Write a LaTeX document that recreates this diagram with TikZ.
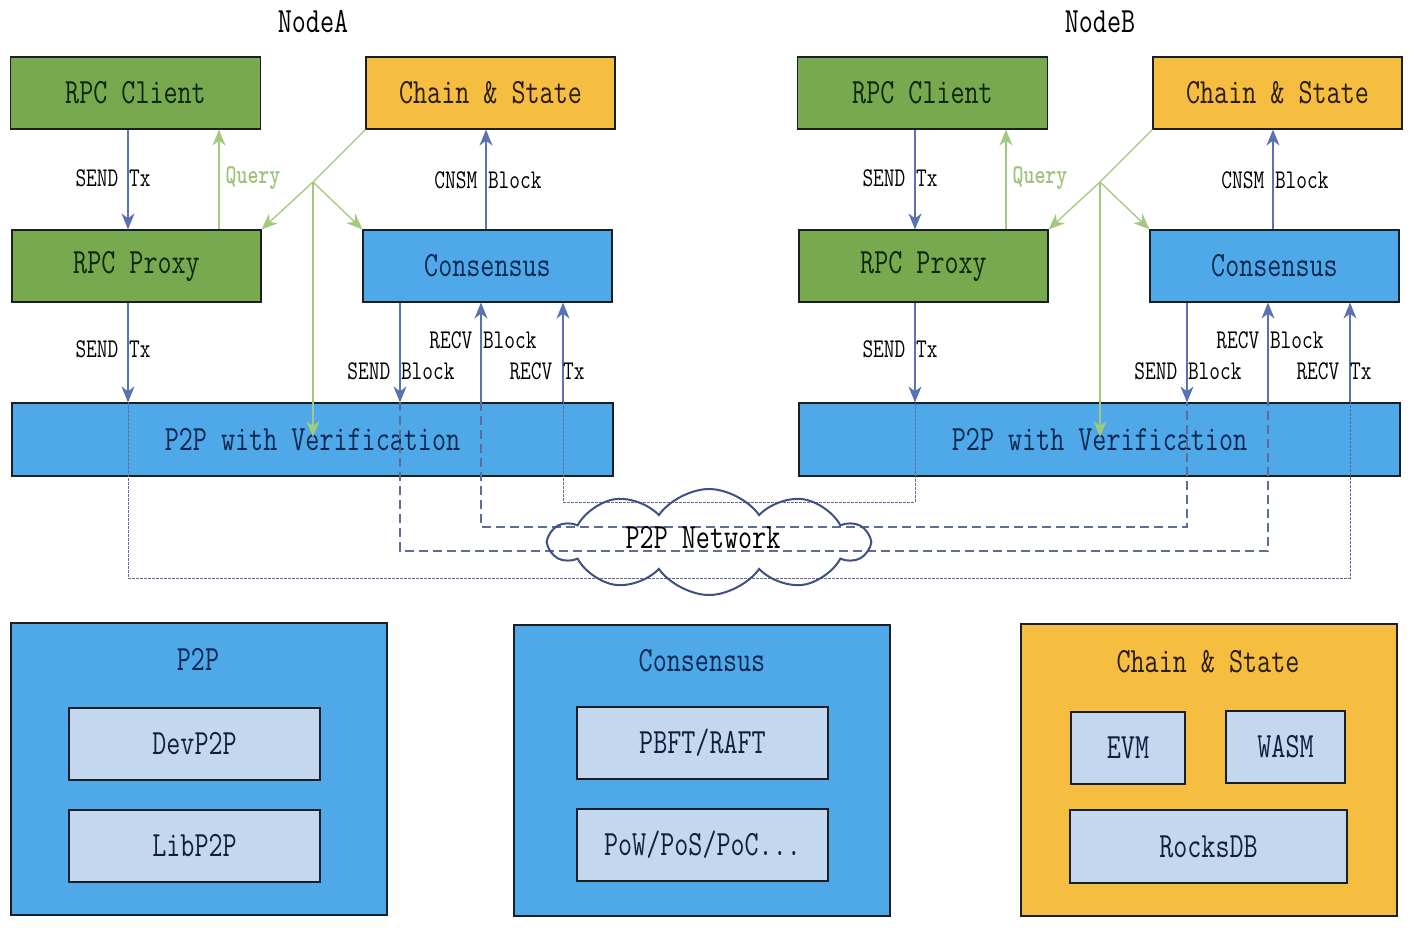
\documentclass[tikz,border=0pt]{standalone}
\usepackage{graphicx}
\usetikzlibrary{arrows.meta,shapes.symbols}
\definecolor{cgreen}{HTML}{78A94F}
\definecolor{tgreen}{HTML}{0E260C}
\definecolor{cgold}{HTML}{F5BE41}
\definecolor{tgold}{HTML}{2A1C05}
\definecolor{cblue}{HTML}{4FA8E8}
\definecolor{tblue}{HTML}{0C2850}
\definecolor{clight}{HTML}{C3D7EE}
\definecolor{tlight}{HTML}{0F1F3D}
\definecolor{boxline}{HTML}{1A1F26}
\definecolor{carrow}{HTML}{5B72B2}
\definecolor{cgline}{HTML}{A3C97F}
\definecolor{cquery}{HTML}{9CC378}
\definecolor{cdash}{HTML}{5E6C98}
\definecolor{ccloud}{HTML}{3F5180}
\newcommand\bigf{\ttfamily\fontsize{27.3}{30}\selectfont}
\newcommand\labf{\ttfamily\fontsize{20.8}{24}\selectfont}
\newcommand\vs[1]{\scalebox{1}[1.3]{#1}}
\begin{document}
\begin{tikzpicture}[x=1pt,y=-1pt,
  box/.style={draw=boxline, line width=1.2pt, font=\bigf, inner sep=0pt, anchor=center},
  gbox/.style={box, fill=cgreen, text=tgreen, minimum width=250pt, minimum height=72pt},
  obox/.style={box, fill=cgold, text=tgold, minimum width=249pt, minimum height=72pt},
  bbox/.style={box, fill=cblue, text=tblue, minimum width=249pt, minimum height=72pt},
  lbox/.style={box, fill=clight, text=tlight},
  title/.style={font=\bigf, inner sep=0pt, anchor=center},
  lab/.style={font=\labf, inner sep=0pt, anchor=center, text=black},
  tipb/.style={-{Stealth[length=16pt,width=13pt,inset=5pt]}},
  barrow/.style={draw=carrow, line width=1.2pt, tipb},
  gline/.style={draw=cgline, line width=1.3pt},
  garrow/.style={gline, tipb},
  dotl/.style={draw=cdash, line width=1pt, dash pattern=on 2.5pt off 1.5pt},
  dashl/.style={draw=cdash, line width=1.3pt, dash pattern=on 9pt off 5pt}
]
\useasboundingbox (0,0) rectangle (1414,936);
\fill[white] (0,0) rectangle (1414,936);

\foreach \n/\dx in {A/0,B/787}{
\begin{scope}[xshift=\dx pt]
  \node[title] (title\n) at (313,22) {\vs{Node\n}};
  \node[gbox] (cli\n) at (135.5,93) {\vs{RPC Client}};
  \node[obox] (chn\n) at (490.5,93) {\vs{Chain \& State}};
  \node[gbox, minimum width=249pt] (prx\n) at (136.5,266) {\vs{RPC Proxy}};
  \node[bbox] (con\n) at (487.5,266) {\vs{Consensus}};
  \node[bbox, minimum width=601pt, minimum height=73pt] (p2p\n) at (312.5,439.5) {\vs{P2P with Verification}};
  \coordinate (st\n) at (128,0);
  \coordinate (qu\n) at (219,0);
  \coordinate (cn\n) at (486,0);
  \coordinate (sb\n) at (400,0);
  \coordinate (rb\n) at (481,0);
  \coordinate (rt\n) at (563,0);
  \coordinate (j\n) at (313,182);
  \coordinate (ve\n) at (313,437);
  % blue arrows
  \draw[barrow] (cli\n.south -| st\n) -- (prx\n.north -| st\n);
  \draw[barrow] (prx\n.south -| st\n) -- (p2p\n.north -| st\n);
  \draw[barrow] (con\n.north -| cn\n) -- (chn\n.south -| cn\n);
  \draw[barrow] (con\n.south -| sb\n) -- (p2p\n.north -| sb\n);
  \draw[barrow] (p2p\n.north -| rb\n) -- (con\n.south -| rb\n);
  \draw[barrow] (p2p\n.north -| rt\n) -- (con\n.south -| rt\n);
  % green
  \draw[garrow] (prx\n.north -| qu\n) -- (cli\n.south -| qu\n);
  \draw[gline] (chn\n.south west) -- (j\n);
  \draw[garrow] (j\n) -- (prx\n.north east);
  \draw[garrow] (j\n) -- (con\n.north west);
  \draw[garrow] (j\n) -- (ve\n);
  % labels
  \node[lab] (l1\n) at (113,178) {\vs{SEND Tx}};
  \node[lab, text=cquery, font=\labf\bfseries] (l2\n) at (253,178) {\vs{Query}};
  \node[lab] (l3\n) at (488,180) {\vs{CNSM Block}};
  \node[lab] (l4\n) at (113,349) {\vs{SEND Tx}};
  \node[lab] (l5\n) at (401,371) {\vs{SEND Block}};
  \node[lab] (l6\n) at (483,340) {\vs{RECV Block}};
  \node[lab] (l7\n) at (547,371) {\vs{RECV Tx}};
\end{scope}
}

\coordinate (L1) at (0,502);
\coordinate (L2) at (0,527);
\coordinate (L3) at (0,551);
\coordinate (L4) at (0,578);
\draw[dotl] (p2pA.north -| stA) -- (stA |- L4) -- (rtB |- L4) -- (p2pB.north -| rtB);
\draw[dashl] (p2pA.north -| sbA) -- (sbA |- L3) -- (rbB |- L3) -- (p2pB.north -| rbB);
\draw[dashl] (p2pA.north -| rbA) -- (rbA |- L2) -- (sbB |- L2) -- (p2pB.north -| sbB);
\draw[dotl] (p2pA.north -| rtA) -- (rtA |- L1) -- (stB |- L1) -- (p2pB.north -| stB);

\node[cloud, draw=ccloud, line width=2pt, cloud puffs=10, cloud puff arc=110, aspect=3,
      minimum width=318pt, minimum height=106pt, inner sep=0pt] (cloud) at (709,542) {};
\node[title, text=black] (net) at (703,538) {\vs{P2P Network}};

% bottom modules
\node[box, fill=cblue, minimum width=376pt, minimum height=292pt] (mp2p) at (199,769) {};
\node[title, text=tblue] (mp2pt) at (198,659) {\vs{P2P}};
\node[lbox, minimum width=251pt, minimum height=72pt] (dev) at (194.5,744) {\vs{DevP2P}};
\node[lbox, minimum width=251pt, minimum height=72pt] (lib) at (194.5,846) {\vs{LibP2P}};

\node[box, fill=cblue, minimum width=376pt, minimum height=291pt] (mcon) at (702,770.5) {};
\node[title, text=tblue] (mcont) at (702,661) {\vs{Consensus}};
\node[lbox, minimum width=251pt, minimum height=72pt] (pbft) at (702.5,743) {\vs{PBFT/RAFT}};
\node[lbox, minimum width=251pt, minimum height=72pt] (pow) at (702.5,845) {\vs{PoW/PoS/PoC...}};

\node[box, fill=cgold, minimum width=376pt, minimum height=292pt] (mchn) at (1209,770) {};
\node[title, text=tgold] (mchnt) at (1208,662) {\vs{Chain \& State}};
\node[lbox, minimum width=114pt, minimum height=72pt] (evm) at (1128,748) {\vs{EVM}};
\node[lbox, minimum width=119pt, minimum height=72pt] (wasm) at (1285.5,747) {\vs{WASM}};
\node[lbox, minimum width=277pt, minimum height=73pt] (rdb) at (1208.5,846.5) {\vs{RocksDB}};
\end{tikzpicture}
\end{document}
